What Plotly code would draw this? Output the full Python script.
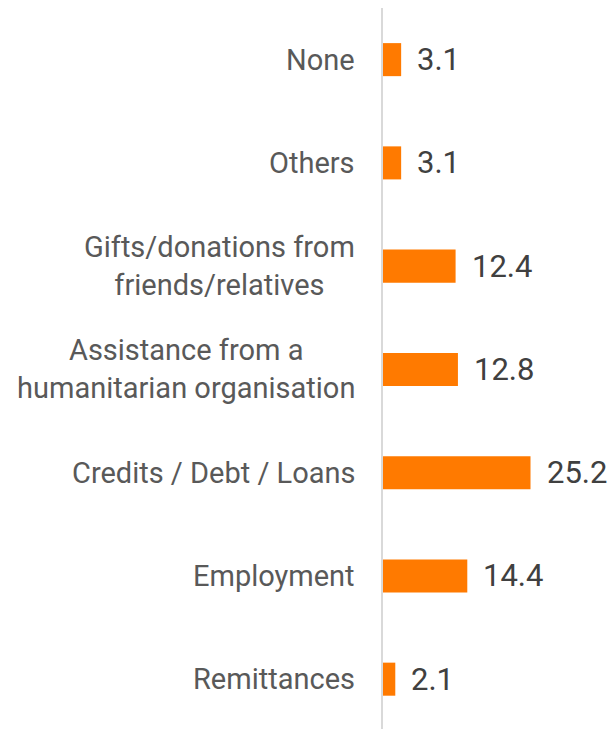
import plotly.graph_objects as go

categories = [
    "Remittances",
    "Employment",
    "Credits / Debt / Loans",
    "Assistance from a<br>humanitarian organisation",
    "Gifts/donations from<br>friends/relatives",
    "Others",
    "None",
]
values = [2.1, 14.4, 25.2, 12.8, 12.4, 3.1, 3.1]

fig = go.Figure()

fig.add_trace(go.Bar(
    x=values,
    y=list(range(len(categories))),
    orientation="h",
    marker=dict(color="#FF7A00", line=dict(width=0)),
    width=0.32,
    hoverinfo="skip",
))

# category labels, lines centred like the original
for i, cat in enumerate(categories):
    fig.add_annotation(
        x=0, y=i, xref="paper", yref="y",
        text=cat, showarrow=False,
        xanchor="right", yanchor="middle", align="center",
        xshift=-26,
        font=dict(family="Roboto", size=29, color="#595959"),
    )

# value labels outside the bars
for i, v in enumerate(values):
    fig.add_annotation(
        x=v, y=i, xref="x", yref="y",
        text=f"{v:.1f}", showarrow=False,
        xanchor="left", yanchor="middle",
        xshift=14,
        font=dict(family="Roboto", size=31, color="#404040"),
    )

fig.update_xaxes(
    range=[0, 41.0],
    showgrid=False, zeroline=False, showticklabels=False, showline=False,
)
fig.update_yaxes(
    range=[-0.56, 6.5],
    showgrid=False, zeroline=False, showticklabels=False,
    showline=True, linecolor="#D9D9D9", linewidth=2,
)

# page body adds an 8px offset, so margins are trimmed by that much
fig.update_layout(
    width=615, height=729,
    margin=dict(l=375, r=0, t=0, b=0),
    plot_bgcolor="white", paper_bgcolor="white",
    showlegend=False,
    font=dict(family="Roboto"),
)

fig.write_html("out.html")
